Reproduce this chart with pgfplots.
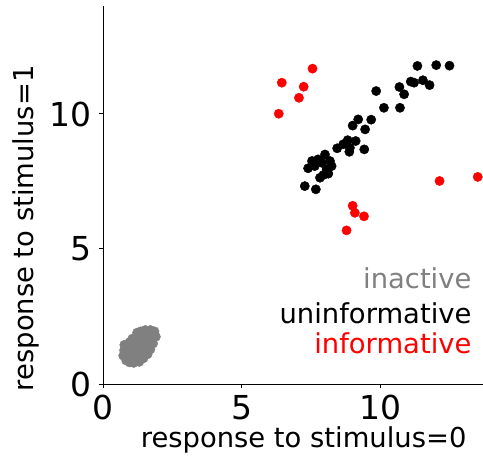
\documentclass[border=0pt]{standalone}
\usepackage{pgfplots}
\pgfplotsset{compat=1.18}
\usepackage{fontspec}
\setmainfont{DejaVu Sans}
\definecolor{mplgray}{HTML}{808080}
\definecolor{mplred}{HTML}{FF0000}

\begin{document}
\begin{tikzpicture}
\path[use as bounding box] (-103.3bp,-73bp) rectangle (379.7bp,384bp);
\begin{axis}[
  at={(0,0)}, anchor=south west,
  scale only axis, width=379.7bp, height=378bp,
  xmin=0, xmax=13.72, ymin=0, ymax=14.0,
  axis x line*=bottom, axis y line*=left,
  axis line style={line width=1bp, -},
  xtick={0,5,10}, ytick={0,5,10},
  tick align=outside, major tick length=4bp,
  tick style={line width=1bp, black},
  /pgf/number format/assume math mode=true,
  tick label style={font=\fontsize{33.1}{36}\selectfont, inner sep=0pt},
  xticklabel style={yshift=-7bp},
  yticklabel style={xshift=-8bp},
  xlabel={response to stimulus=0},
  ylabel={response to stimulus=1},
  label style={font=\fontsize{27.5}{30}\selectfont},
  xlabel style={at={(axis description cs:0.9658,-0.1667)}, anchor=base east},
  ylabel style={at={(axis description cs:-0.185,0.852)}, anchor=base east},
  clip=false,
]
% inactive
\addplot[only marks, mark=*, mark size=4.65bp, color=mplgray] coordinates {
(0.72,1.05)(0.75,1.25)(0.76,1.45)(0.83,0.87)(0.95,0.8)(1.1,0.78)(1.3,0.82)
(1.45,0.95)(1.6,1.1)(1.7,1.28)(1.8,1.5)(1.9,1.75)(1.85,1.95)(1.7,2.0)
(1.52,2.0)(1.35,1.95)(1.22,1.9)(1.05,1.68)(0.95,1.55)
(0.9,1.1)(1.0,1.3)(1.1,1.0)(1.2,1.2)(1.3,1.05)(1.15,1.45)(1.3,1.4)(1.45,1.25)
(1.4,1.6)(1.55,1.5)(1.6,1.75)(1.5,1.8)(1.7,1.65)(1.35,1.7)(1.25,1.6)(1.05,1.1)(0.85,1.3)
};
% uninformative
\addplot[only marks, mark=*, mark size=4.65bp, color=black] coordinates {
(11.35,11.78)(12.03,11.81)(12.51,11.79)(11.11,11.20)(11.23,11.16)(11.55,11.25)
(11.79,11.07)(10.70,11.00)(10.87,10.73)(9.86,10.85)(10.14,10.23)(10.72,10.23)
(9.21,9.80)(9.01,9.57)(9.68,9.79)(9.46,9.43)(8.83,9.03)(9.12,9.00)(8.67,8.88)
(8.45,8.73)(8.91,8.75)(8.89,8.60)(9.43,8.69)(8.01,8.50)(7.76,8.32)(8.19,8.26)
(8.25,8.07)(7.40,7.99)(7.64,8.07)(8.07,7.95)(7.95,7.74)(7.83,7.64)(8.13,7.79)
(7.28,7.33)(7.68,7.21)(7.90,8.19)(7.54,8.26)
};
% informative
\addplot[only marks, mark=*, mark size=4.65bp, color=mplred] coordinates {
(7.56,11.68)(6.45,11.16)(7.24,11.01)(7.07,10.60)(6.34,10.01)(12.15,7.52)
(13.53,7.67)(9.01,6.60)(9.09,6.34)(9.42,6.21)(8.79,5.69)
};
\node[anchor=base east, text=mplgray, font=\fontsize{27.5}{30}\selectfont, inner sep=0pt] at (rel axis cs:0.970,0.253) {inactive};
\node[anchor=base east, text=black, font=\fontsize{27.5}{30}\selectfont, inner sep=0pt] at (rel axis cs:0.970,0.159) {uninformative};
\node[anchor=base east, text=mplred, font=\fontsize{27.5}{30}\selectfont, inner sep=0pt] at (rel axis cs:0.970,0.081) {informative};
\end{axis}
\end{tikzpicture}
\end{document}
